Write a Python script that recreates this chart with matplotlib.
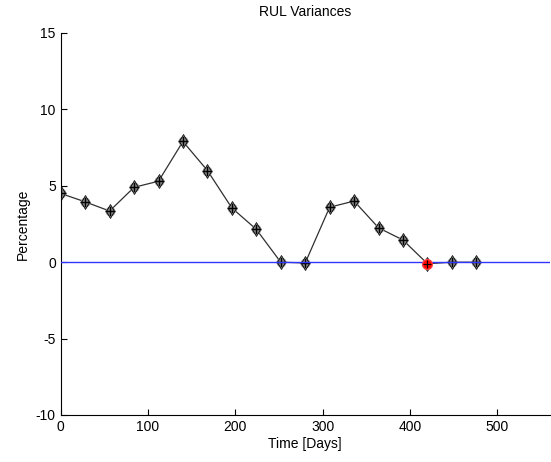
import matplotlib
matplotlib.use("Agg")
import matplotlib.pyplot as plt

days = [0, 28, 56, 84, 112, 140, 168, 196, 224, 252, 280, 308, 336, 364, 392, 420, 448, 476]
variance = [4.5, 3.95, 3.35, 4.9, 5.3, 7.9, 6.0, 3.55, 2.15, 0.0, -0.05, 3.6, 4.0, 2.25, 1.45, -0.1, 0.0, 0.0]
highlight_day = [420]
highlight_val = [-0.1]
xticks = [0, 100, 200, 300, 400, 500]
yticks = [-10, -5, 0, 5, 10, 15]

plt.rcParams['font.family'] = ['Liberation Sans', 'DejaVu Sans']
plt.rcParams['axes.unicode_minus'] = False
fig = plt.figure(figsize=(5.51, 4.62), dpi=100)
ax = fig.add_axes([60.7/551, 47/462, 489/551, 382/462])

ax.plot(days, variance, color='#303030', lw=0.9, zorder=2)
ax.plot(days, variance, ls='none', marker='o', ms=6, mfc='#8a8a8a', mec='#8a8a8a', zorder=3)
ax.plot(days, variance, ls='none', marker='d', ms=7.5, mfc='none', mec='black', mew=0.6, zorder=4)
ax.plot(days, variance, ls='none', marker='+', ms=7, mec='black', mew=1.0, zorder=5)
ax.axhline(0, color='#3333ff', lw=1.0, zorder=6)
ax.plot(highlight_day, highlight_val, ls='none', marker='o', ms=7, mfc='red', mec='#ff4040', zorder=7)
ax.plot(highlight_day, highlight_val, ls='none', marker='+', ms=6, mec='black', mew=0.8, zorder=8)

ax.set_xlim(0, 560)
ax.set_ylim(-10, 15)
ax.set_xticks(xticks)
ax.set_yticks(yticks)
ax.spines['top'].set_visible(False)
ax.spines['right'].set_visible(False)
ax.tick_params(direction='in', length=4, labelsize=10, width=0.8)
ax.set_title('RUL Variances', fontsize=10, pad=12)
ax.set_xlabel('Time [Days]', fontsize=10, labelpad=2)
ax.set_ylabel('Percentage', fontsize=10, labelpad=4)

fig.savefig('out.png', dpi=100)
